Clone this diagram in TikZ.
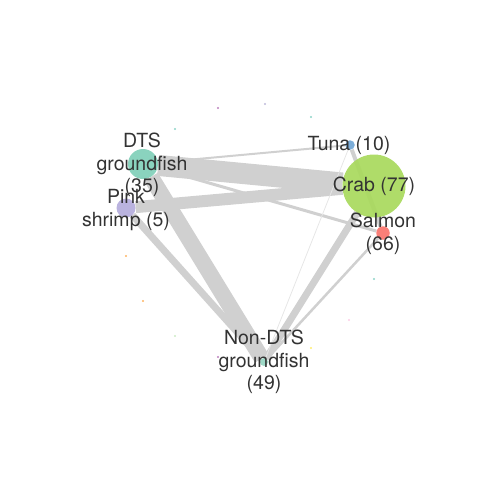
\documentclass[tikz,border=0pt]{standalone}
\usepackage{fontspec}
\setmainfont{TeX Gyre Heros}
\usepackage{tikz}
\usetikzlibrary{backgrounds}

\definecolor{dtscol}{RGB}{128,207,184}
\definecolor{pinkcol}{RGB}{180,172,220}
\definecolor{tunacol}{RGB}{112,166,214}
\definecolor{crabcol}{RGB}{168,217,92}
\definecolor{salmoncol}{RGB}{250,116,108}
\definecolor{nondtscol}{RGB}{150,214,194}
\definecolor{linkgray}{RGB}{208,208,208}
\definecolor{faintgray}{RGB}{230,230,230}
\definecolor{labelgray}{RGB}{51,51,51}
\definecolor{setteal}{RGB}{141,211,199}
\definecolor{setorange}{RGB}{253,180,98}
\definecolor{setpurple}{RGB}{188,128,189}
\definecolor{setlav}{RGB}{190,186,218}
\definecolor{setgreen}{RGB}{204,235,197}
\definecolor{setyellow}{RGB}{255,237,111}
\definecolor{setpink}{RGB}{252,205,229}

\tikzset{
  vertex/.style = {circle, inner sep = 0pt, fill opacity = 0.92},
  speck/.style = {circle, inner sep = 0pt, minimum size = 2.4pt},
  link/.style = {draw = linkgray},
  tag/.style = {text = labelgray, align = center, font = \fontsize{19.5}{22.5}\selectfont},
}

\begin{document}
\begin{tikzpicture}[x = 1pt, y = -1pt]
      \useasboundingbox (0, 0) rectangle (480, 480);
      % fisheries
      \node [vertex, fill = dtscol, minimum size = 30pt] (dts) at (143, 164) {};
      \node [vertex, fill = pinkcol, minimum size = 19pt] (pink) at (126, 208) {};
      \node [vertex, fill = tunacol, minimum size = 9.5pt] (tuna) at (350, 145) {};
      \node [vertex, fill = crabcol, minimum size = 63pt] (crab) at (374, 186) {};
      \node [vertex, fill = salmoncol, minimum size = 13.5pt] (salmon) at (383, 233) {};
      \node [vertex, fill = nondtscol, minimum size = 8pt] (nondts) at (264, 362) {};
      % isolated fisheries
      \node [speck, fill = setpurple] (s1) at (218, 108) {};
      \node [speck, fill = setlav] (s2) at (265, 104) {};
      \node [speck, fill = setteal] (s3) at (311, 117) {};
      \node [speck, fill = setteal] (s4) at (175, 129) {};
      \node [speck, fill = setorange] (s5) at (126, 256) {};
      \node [speck, fill = setorange] (s6) at (143, 301) {};
      \node [speck, fill = setgreen] (s7) at (175, 336) {};
      \node [speck, fill = setpurple] (s8) at (218, 357) {};
      \node [speck, fill = setyellow] (s9) at (311, 348) {};
      \node [speck, fill = setpink] (s10) at (349, 320) {};
      \node [speck, fill = setteal] (s11) at (374, 279) {};
      % shared participation
      \begin{scope}[on background layer]
        \draw [link, line width = 21pt] (dts) -- (crab);
        \draw [link, line width = 16pt] (dts) -- (nondts);
        \draw [link, line width = 12pt] (pink) -- (crab);
        \draw [link, line width = 7pt] (pink) -- (nondts);
        \draw [link, line width = 7pt] (crab) -- (nondts);
        \draw [link, line width = 4pt] (tuna) -- (salmon);
        \draw [link, line width = 3pt] (dts) -- (salmon);
        \draw [link, line width = 2.5pt] (salmon) -- (nondts);
        \draw [link, line width = 2pt] (dts) -- (tuna);
        \draw [draw = faintgray, line width = 0.8pt] (tuna) -- (nondts);
      \end{scope}
      % labels
      \node [tag] (dtstag) at (142, 165) {DTS\\groundfish\\(35)};
      \node [tag] (pinktag) at (126, 210) {Pink\\shrimp (5)};
      \node [tag] (tunatag) at (349, 145) {Tuna (10)};
      \node [tag] (crabtag) at (374, 186) {Crab (77)};
      \node [tag] (salmontag) at (383, 234) {Salmon\\(66)};
      \node [tag] (nondtstag) at (264, 362) {Non-DTS\\groundfish\\(49)};
    \end{tikzpicture}
\end{document}
